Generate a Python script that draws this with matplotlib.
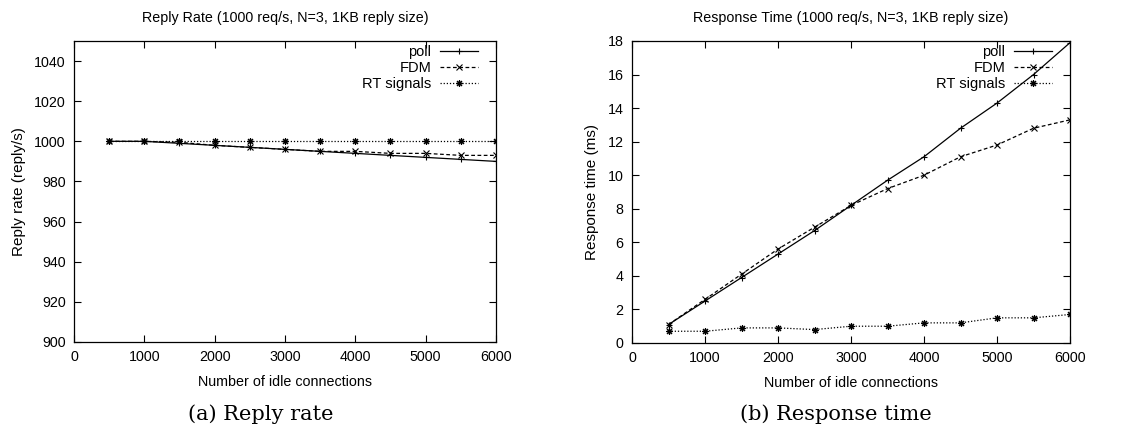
import matplotlib
matplotlib.use("Agg")
import matplotlib.pyplot as plt

# idle connections
conns = [500, 1000, 1500, 2000, 2500, 3000, 3500, 4000, 4500, 5000, 5500, 6000]

# reply rate (reply/s)
rate_poll = [1000, 1000, 999, 998, 997, 996, 995, 994, 993, 992, 991, 990]
rate_fdm = [1000, 1000, 999.5, 998, 997, 996, 995, 995, 994, 994, 993, 993]
rate_rt = [1000, 1000, 1000, 1000, 1000, 1000, 1000, 1000, 1000, 1000, 1000, 1000]

# response time (ms)
resp_poll = [1.1, 2.5, 3.9, 5.3, 6.7, 8.2, 9.7, 11.1, 12.8, 14.3, 16.0, 17.9]
resp_fdm = [1.1, 2.6, 4.1, 5.6, 6.9, 8.2, 9.2, 10.0, 11.1, 11.8, 12.8, 13.3]
resp_rt = [0.7, 0.7, 0.9, 0.9, 0.8, 1.0, 1.0, 1.2, 1.2, 1.5, 1.5, 1.7]

plt.rcParams['font.family'] = ['Liberation Sans', 'DejaVu Sans']
plt.rcParams['font.size'] = 10

fig = plt.figure(figsize=(11.36, 4.33), dpi=100)
ax1 = fig.add_axes([74/1136, 1 - 342/433, 422/1136, 301/433])
ax2 = fig.add_axes([632/1136, 1 - 343/433, 438/1136, 302/433])

star = (8, 2, 0)

def draw(ax, ys, title, ylabel):
    p, f, r = ys
    ax.plot(conns, p, color='black', lw=0.9, marker='+', ms=5, mew=0.8, label='poll')
    ax.plot(conns, f, color='black', lw=0.9, ls=(0, (3, 2)), marker='x', ms=4, mew=0.8, label='FDM')
    ax.plot(conns, r, color='black', lw=0.9, ls=(0, (1, 1.5)), marker=star, ms=5, mew=0.8, label='RT signals')
    ax.set_xlim(0, 6000)
    ax.set_xticks(range(0, 6001, 1000))
    ax.tick_params(direction='in', top=True, right=True, length=5, labelsize=10.3, pad=6)
    ax.set_title(title, fontsize=10.3, pad=14)
    ax.set_xlabel('Number of idle connections', fontsize=10.3, labelpad=8)
    ax.set_ylabel(ylabel, fontsize=11, labelpad=6)
    for s in ax.spines.values():
        s.set_linewidth(0.9)
    w = ax.get_position().width * 1136
    h = ax.get_position().height * 433
    ax.legend(loc='upper right', frameon=False, markerfirst=False, fontsize=10.5,
              handlelength=2.6, labelspacing=0.12, borderaxespad=0, handletextpad=0.6,
              bbox_to_anchor=(1 - 12/w, 1 + 1.5/h))

draw(ax1, (rate_poll, rate_fdm, rate_rt), 'Reply Rate (1000 req/s, N=3, 1KB reply size)', 'Reply rate (reply/s)')
ax1.set_ylim(900, 1050)
ax1.set_yticks(range(900, 1041, 20))

draw(ax2, (resp_poll, resp_fdm, resp_rt), 'Response Time (1000 req/s, N=3, 1KB reply size)', 'Response time (ms)')
ax2.set_ylim(0, 18)
ax2.set_yticks(range(0, 19, 2))

fig.text(261/1136, 1 - 414/433, '(a) Reply rate', family=['DejaVu Serif'],
         fontsize=15, ha='center', va='center')
fig.text(836/1136, 1 - 414/433, '(b) Response time', family=['DejaVu Serif'],
         fontsize=15, ha='center', va='center')

fig.savefig('out.png', dpi=100)
